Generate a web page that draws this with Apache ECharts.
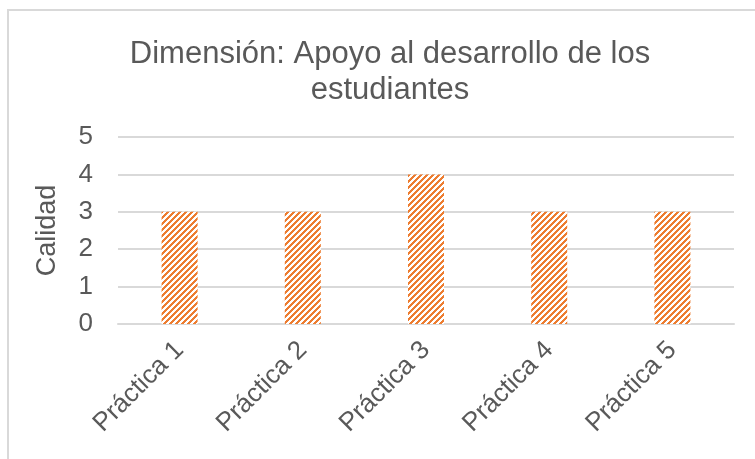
<!DOCTYPE html>
<html>
<head>
<meta charset="utf-8">
<script src="https://cdn.jsdelivr.net/npm/echarts@6/dist/echarts.min.js"></script>
<style>
html,body{margin:0;padding:0;background:#fff;}
#chart{width:755px;height:459px;}
</style>
</head>
<body>
<div id="chart"></div>
<script>
const titleText = "Dimensión: Apoyo al desarrollo de los\nestudiantes";
const categories = ["Práctica 1", "Práctica 2", "Práctica 3", "Práctica 4", "Práctica 5"];
const calidad = [3, 3, 4, 3, 3];
const yAxisName = "Calidad";

// diagonal stripe pattern
const pc = document.createElement('canvas');
pc.width = 12; pc.height = 12;
const pctx = pc.getContext('2d');
pctx.fillStyle = '#ffffff';
pctx.fillRect(0, 0, 12, 12);
pctx.fillStyle = '#ED7D31';
for (let x = 0; x < 12; x++) {
  for (let y = 0; y < 12; y++) {
    if ((x + y) % 6 < 3) pctx.fillRect(x, y, 1, 1);
  }
}

const chart = echarts.init(document.getElementById('chart'), null, {renderer: 'canvas'});
const font = '"Liberation Sans", Arial, sans-serif';
chart.setOption({
  animation: false,
  backgroundColor: '#ffffff',
  textStyle: {fontFamily: font},
  graphic: [{
    type: 'rect',
    shape: {x: 8, y: 10, width: 800, height: 500},
    style: {fill: null, stroke: '#D9D9D9', lineWidth: 2},
    silent: true
  }],
  title: {
    text: titleText,
    left: 385,
    top: 31,
    textAlign: 'center',
    textStyle: {fontFamily: font, fontSize: 31, fontWeight: 'normal', color: '#595959', lineHeight: 36}
  },
  grid: {left: 118, right: 21, top: 137, bottom: 135, containLabel: false},
  xAxis: {
    type: 'category',
    data: categories,
    axisLine: {show: true, lineStyle: {color: '#D9D9D9', width: 2}},
    axisTick: {show: false},
    axisLabel: {rotate: 45, color: '#595959', fontSize: 26, fontFamily: font, margin: 22, interval: 0}
  },
  yAxis: {
    type: 'value',
    min: 0, max: 5, interval: 1,
    name: yAxisName,
    nameLocation: 'middle',
    nameRotate: 90,
    nameGap: 57,
    nameTextStyle: {color: '#595959', fontSize: 27, fontFamily: font},
    axisLine: {show: false},
    axisTick: {show: false},
    splitLine: {lineStyle: {color: '#D9D9D9', width: 2}},
    axisLabel: {color: '#595959', fontSize: 26, fontFamily: font, margin: 25}
  },
  series: [{
    type: 'bar',
    data: calidad,
    barWidth: 36,
    itemStyle: {color: {image: pc, repeat: 'repeat'}}
  }]
});
</script>
</body>
</html>
